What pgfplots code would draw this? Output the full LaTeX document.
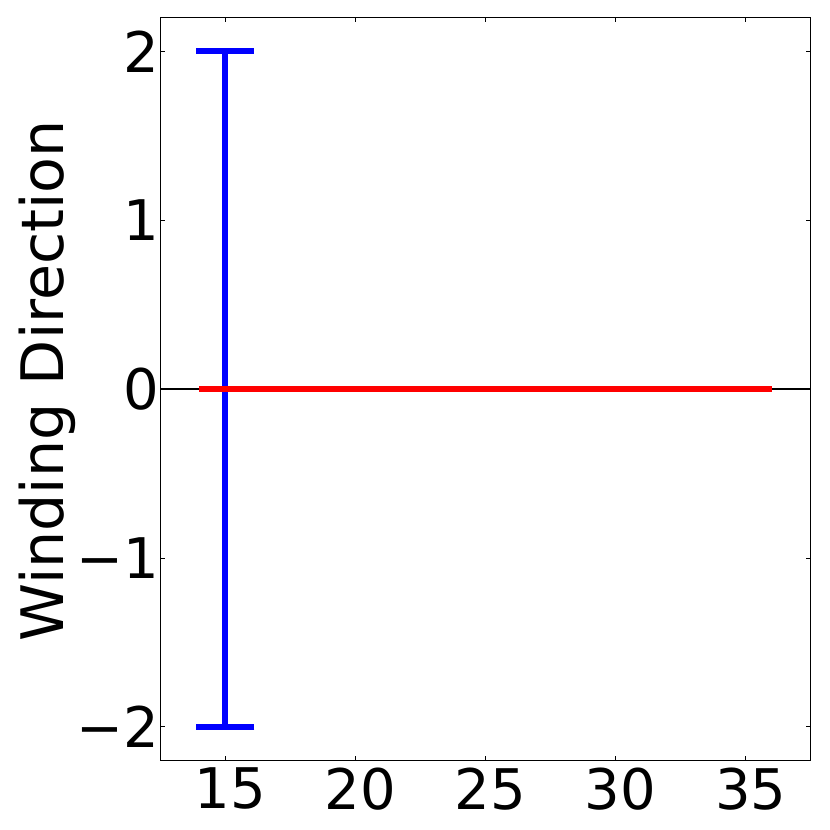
\documentclass[border=0pt]{standalone}
\usepackage{fontspec}
\setmainfont{DejaVu Sans}
\usepackage{pgfplots}
\pgfplotsset{compat=1.18}
\begin{document}
\begin{tikzpicture}[x=1pt,y=1pt]
\useasboundingbox (-80.15,-34.65) rectangle (334.85,380.35);
\begin{axis}[
  at={(0,0)}, anchor=south west,
  width=325.2pt, height=371.6pt, scale only axis,
  xmin=12.5, xmax=37.5, ymin=-2.2, ymax=2.2,
  xtick={15,20,25,30,35},
  ytick={-2,-1,0,1,2},
  yticklabels={−2,−1,0,1,2},
  tick align=inside,
  major tick length=2.5pt,
  every tick/.style={black, line width=0.5pt},
  axis line style={line width=0.75pt},
  /pgf/number format/assume math mode=true,
  tick label style={font=\fontsize{28}{33}\selectfont},
  ylabel={Winding Direction},
  ylabel style={font=\fontsize{29.3}{34}\selectfont, at={(axis description cs:-0.1494,0.5109)}, anchor=base, rotate=0},
  xticklabel style={inner sep=0pt, yshift=-3.5pt, xshift=2.5pt},
  yticklabel style={inner sep=0pt, xshift=-0.5pt},
  clip=false,
]
\addplot [black, line width=0.75pt] coordinates {(12.5,0) (37.5,0)};
\addplot [blue, line width=3pt, draw=none,
  error bars/.cd, y dir=both, y explicit,
  error bar style={line width=3pt, blue},
  error mark options={rotate=90, mark size=14.5pt, line width=3pt, blue}]
  coordinates {(15,0) +- (0,2)};
\addplot [red, line width=3pt] coordinates {(14,0) (36,0)};
\end{axis}
\end{tikzpicture}
\end{document}
